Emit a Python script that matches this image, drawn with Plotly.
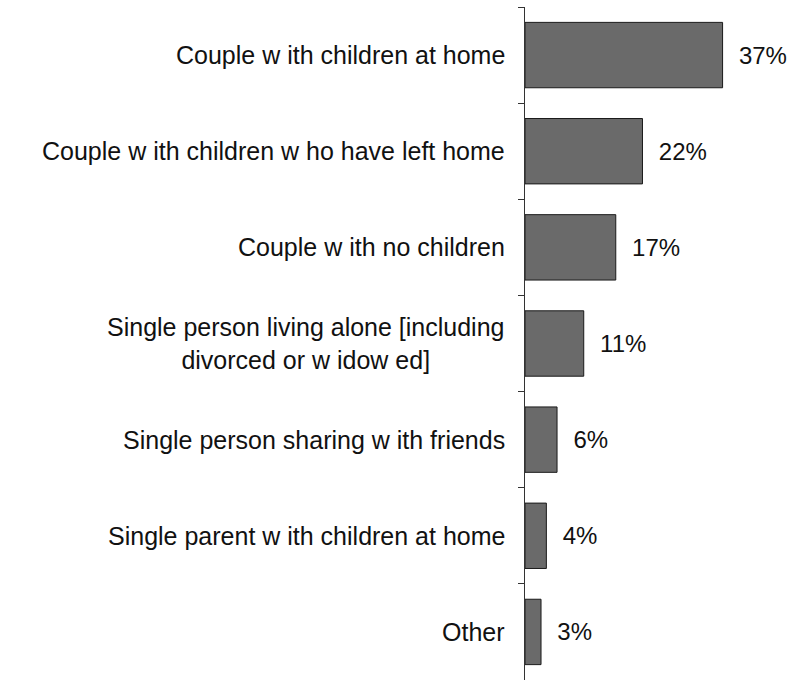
import plotly.graph_objects as go

# Household composition shares
categories = [
    "Couple w ith children at home",
    "Couple w ith children w ho have left home",
    "Couple w ith no children",
    "Single person living alone [including<br>divorced or w idow ed]",
    "Single person sharing w ith friends",
    "Single parent w ith children at home",
    "Other",
]
values = [37, 22, 17, 11, 6, 4, 3]
value_labels = ["37%", "22%", "17%", "11%", "6%", "4%", "3%"]

FONT = "Liberation Sans, Arial, sans-serif"

fig = go.Figure()
fig.add_trace(go.Bar(
    x=values,
    y=categories,
    orientation="h",
    marker=dict(color="#6a6a6a", line=dict(color="#1a1a1a", width=1)),
    text=value_labels,
    texttemplate="  %{text}",
    textposition="outside",
    textfont=dict(family=FONT, size=24, color="#111111"),
    cliponaxis=False,
    width=0.68,
))

# Category names as centred multi-line annotations left of the axis
for cat in categories:
    fig.add_annotation(
        x=0, y=cat, xref="x", yref="y",
        text=cat, showarrow=False,
        xanchor="right", yanchor="middle", align="center",
        xshift=-18,
        font=dict(family=FONT, size=25, color="#111111"),
    )

fig.update_layout(
    width=792, height=681,
    margin=dict(l=525, r=0, t=7, b=1),
    paper_bgcolor="white", plot_bgcolor="white",
    showlegend=False,
    xaxis=dict(range=[0, 50], visible=False, fixedrange=True),
    yaxis=dict(
        autorange="reversed",
        showticklabels=False,
        showline=True, linecolor="#333333", linewidth=1,
        ticks="outside", tickson="boundaries", ticklen=6,
        tickcolor="#333333", showgrid=False, zeroline=False,
    ),
)

fig.write_html("out.html")
